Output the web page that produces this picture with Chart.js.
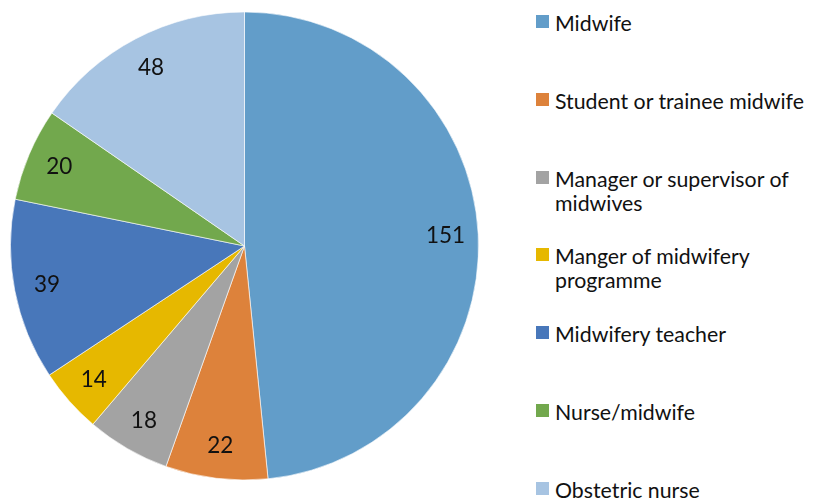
<!DOCTYPE html>
<html lang="en">
<head>
    <meta charset="UTF-8">
    <title>Respondents by role</title>
    <style>
        body { margin: 0; background: #fff; }
        #wrap { position: relative; width: 816px; height: 503px; font-family: Lato, "Open Sans", sans-serif; }
        #pieBox { position: absolute; left: 0; top: 0; width: 489px; height: 492px; }
        #legend { position: absolute; left: 536px; top: 0; width: 280px; }
        .item { position: absolute; left: 0; width: 275px; }
        .box { position: absolute; left: 0; width: 13px; height: 13px; }
        .txt { position: absolute; left: 19px; width: 260px; font-size: 21.3px; line-height: 24px; color: #111; }
    </style>
</head>
<body>
    <div id="wrap">
        <div id="pieBox"><canvas id="myChart"></canvas></div>
        <div id="legend"></div>
    </div>

    <script src="https://cdn.jsdelivr.net/npm/chart.js"></script>
    <script>
        const categories = ['Midwife', 'Student or trainee midwife', 'Manager or supervisor of midwives',
            'Manger of midwifery programme', 'Midwifery teacher', 'Nurse/midwife', 'Obstetric nurse'];
        const counts = [151, 22, 18, 14, 39, 20, 48];
        const colors = ['#629dc9', '#dd823b', '#a3a3a3', '#e6b800', '#4877ba', '#72a84d', '#a7c4e2'];

        // labels sitting inside each slice
        const sliceLabels = {
            id: 'sliceLabels',
            afterDatasetsDraw(chart) {
                const ctx = chart.ctx;
                const meta = chart.getDatasetMeta(0);
                ctx.save();
                ctx.font = '22.5px Lato, "Open Sans", sans-serif';
                ctx.fillStyle = '#111';
                ctx.textAlign = 'center';
                ctx.textBaseline = 'middle';
                meta.data.forEach((arc, i) => {
                    const p = arc.getProps(['x', 'y', 'startAngle', 'endAngle', 'outerRadius'], true);
                    const mid = (p.startAngle + p.endAngle) / 2;
                    const r = p.outerRadius * 0.86;
                    ctx.fillText(String(counts[i]), p.x + Math.cos(mid) * r, p.y + Math.sin(mid) * r);
                });
                ctx.restore();
            }
        };

        new Chart(document.getElementById('myChart'), {
            type: 'pie',
            data: {
                labels: categories,
                datasets: [{
                    data: counts,
                    backgroundColor: colors,
                    borderColor: 'rgba(255,255,255,0.6)',
                    borderWidth: 1
                }]
            },
            options: {
                responsive: true,
                maintainAspectRatio: false,
                animation: false,
                layout: { padding: 10 },
                plugins: {
                    legend: { display: false },
                    tooltip: { enabled: false }
                }
            },
            plugins: [sliceLabels]
        });

        // legend on the right
        const legend = document.getElementById('legend');
        categories.forEach((name, i) => {
            const item = document.createElement('div');
            item.className = 'item';
            item.style.top = (15 + i * 77.8) + 'px';
            item.innerHTML = '<div class="box" style="background:' + colors[i] + '"></div>' +
                '<div class="txt" style="top:-4px">' + name + '</div>';
            legend.appendChild(item);
        });
    </script>
</body>
</html>
